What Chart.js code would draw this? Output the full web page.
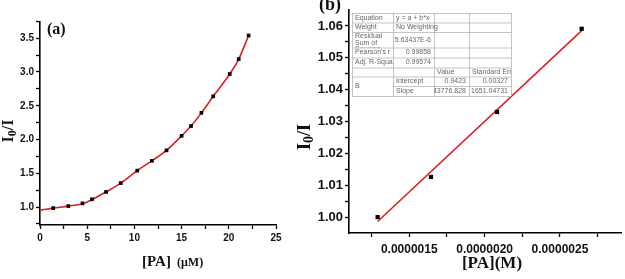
<!DOCTYPE html>
<html>
<head>
<meta charset="utf-8">
<script src="https://cdn.jsdelivr.net/npm/chart.js@4/dist/chart.umd.min.js"></script>
<style>
  body { margin: 0; background: #fff; width: 625px; height: 279px; position: relative; overflow: hidden; }
  #chartA { position: absolute; left: 0; top: 0; }
  #chartB { position: absolute; left: 290px; top: 0; }
</style>
</head>
<body>
<canvas id="chartA" width="300" height="279"></canvas>
<canvas id="chartB" width="335" height="279"></canvas>
<script>
// panel (a): quenching data, [PA] in uM vs I0/I
const concA  = [1.4, 3.0, 4.5, 5.5, 7.0, 8.55, 10.3, 11.85, 13.4, 15.0, 16.0, 17.1, 18.35, 20.1, 21.05, 22.1];
const ratioA = [0.985, 1.015, 1.055, 1.115, 1.225, 1.355, 1.54, 1.685, 1.84, 2.055, 2.2, 2.395, 2.64, 2.97, 3.19, 3.54];
// red fitted curve of panel (a)
const curveConcA  = [0, 1.4, 3.0, 4.5, 5.5, 7.0, 8.55, 10.3, 11.85, 13.4, 15.0, 16.0, 17.1, 18.35, 20.1, 21.05, 22.1];
const curveRatioA = [0.955, 0.985, 1.015, 1.05, 1.11, 1.225, 1.355, 1.54, 1.685, 1.84, 2.055, 2.2, 2.395, 2.64, 2.97, 3.19, 3.54];
const xTicksA  = [0, 2.5, 5, 7.5, 10, 12.5, 15, 17.5, 20, 22.5, 25];
const xLabelsA = ['0', '', '5', '', '10', '', '15', '', '20', '', '25'];
const yTicksA  = [0.75, 1.0, 1.25, 1.5, 1.75, 2.0, 2.25, 2.5, 2.75, 3.0, 3.25, 3.5, 3.75];
const yLabelsA = ['', '1.0', '', '1.5', '', '2.0', '', '2.5', '', '3.0', '', '3.5', ''];

// panel (b): linear part, [PA] in M
const concB  = [1.29e-6, 1.644e-6, 2.082e-6, 2.644e-6];
const ratioB = [1.000, 1.0126, 1.033, 1.0591];
const fitConcB  = [1.29e-6, 2.644e-6];
const fitRatioB = [0.9986, 1.0585];
const xTicksB  = [1.25e-6, 1.5e-6, 1.75e-6, 2.0e-6, 2.25e-6, 2.5e-6, 2.75e-6];
const xLabelsB = ['', '0.0000015', '', '0.0000020', '', '0.0000025', ''];
const yTicksB  = [1.0, 1.005, 1.01, 1.015, 1.02, 1.025, 1.03, 1.035, 1.04, 1.045, 1.05, 1.055, 1.06];
const yLabelsB = ['1.00', '', '1.01', '', '1.02', '', '1.03', '', '1.04', '', '1.05', '', '1.06'];

// fit report table of panel (b)
const tableRows = [
  ['Equation', 'y = a + b*x', '', ''],
  ['Weight', 'No Weighting', '', ''],
  ['Residual\nSum of\nSquares', '5.63437E-6', '', ''],
  ["Pearson's r", '0.99858', '', ''],
  ['Adj. R-Squar', '0.99574', '', ''],
  ['', '', 'Value', 'Standard Erro'],
  ['B', 'Intercept', '0.9423', '0.00327'],
  ['', 'Slope', '43776.828', '1651.04731']
];

const RED = 'rgb(218, 32, 36)';
const tickFont = 'Liberation Sans';
const titleFont = 'Liberation Serif';

function pts(xs, ys) {
  return xs.map((x, i) => ({ x: x, y: ys[i] }));
}

function axis(min, max, tickValues, tickLabels, size, pad, fit, isX) {
  return {
    type: 'linear',
    min: min,
    max: max,
    afterBuildTicks: (s) => { s.ticks = tickValues.map(v => ({ value: v })); },
    afterFit: (s) => { if (isX) s.height = fit; else s.width = fit; },
    border: { display: true, color: '#000', width: 1.6 },
    grid: { drawOnChartArea: false, drawTicks: true, tickLength: 4, color: '#000', tickWidth: 1.3 },
    ticks: {
      autoSkip: false,
      maxRotation: 0,
      padding: pad,
      color: '#111',
      font: { family: tickFont, size: size, weight: 'bold' },
      callback: (v, i) => tickLabels[i]
    }
  };
}

// draws "I0/I" rotated, with a subscript 0
function drawRatioTitle(ctx, cx, cy, size) {
  ctx.save();
  ctx.translate(cx, cy);
  ctx.rotate(-Math.PI / 2);
  ctx.fillStyle = '#111';
  ctx.textBaseline = 'middle';
  const big = 'bold ' + size + 'px ' + titleFont;
  const small = 'bold ' + Math.round(size * 0.75) + 'px ' + titleFont;
  ctx.font = big; const w1 = ctx.measureText('I').width;
  ctx.font = small; const w2 = ctx.measureText('0').width;
  ctx.font = big; const w3 = ctx.measureText('/I').width;
  let x = -(w1 + w2 + w3) / 2;
  ctx.font = big; ctx.fillText('I', x, 0); x += w1;
  ctx.font = small; ctx.fillText('0', x, size * 0.25); x += w2;
  ctx.font = big; ctx.fillText('/I', x, 0);
  ctx.restore();
}

const labelsA = {
  id: 'labelsA',
  afterDraw(chart) {
    const ctx = chart.ctx;
    ctx.save();
    ctx.fillStyle = '#111';
    ctx.textBaseline = 'alphabetic';
    ctx.font = 'bold 16px ' + titleFont;
    ctx.fillText('(a)', 47, 34);
    ctx.font = 'bold 15px ' + titleFont;
    ctx.fillText('[PA]', 142, 266);
    ctx.font = 'bold 12px ' + titleFont;
    ctx.fillText('(\u03bcM)', 177, 266);
    ctx.restore();
    drawRatioTitle(ctx, 9, 131, 16);
  }
};

const labelsB = {
  id: 'labelsB',
  afterDraw(chart) {
    const ctx = chart.ctx;
    ctx.save();
    ctx.fillStyle = '#111';
    ctx.textBaseline = 'alphabetic';
    ctx.font = 'bold 18px ' + titleFont;
    ctx.fillText('(b)', 29, 10);
    ctx.textAlign = 'center';
    ctx.font = 'bold 17px ' + titleFont;
    ctx.fillText('[PA](M)', 202, 268);
    ctx.restore();
    drawRatioTitle(ctx, 15, 137, 18);

    // fit report table
    const cols = [62, 103, 144, 179, 221];
    const rows = [13, 22.5, 32, 47.5, 57.5, 67.5, 76.5, 86, 96];
    ctx.save();
    ctx.fillStyle = '#fff';
    ctx.fillRect(cols[0], rows[0], cols[4] - cols[0], rows[8] - rows[0]);
    ctx.strokeStyle = '#b5b5b5';
    ctx.lineWidth = 0.8;
    ctx.beginPath();
    cols.forEach(c => { ctx.moveTo(c + 0.5, rows[0]); ctx.lineTo(c + 0.5, rows[8]); });
    rows.forEach((r, i) => {
      ctx.moveTo(i === 7 ? cols[1] : cols[0], r + 0.5);
      ctx.lineTo(cols[4], r + 0.5);
    });
    ctx.stroke();
    ctx.fillStyle = '#666';
    ctx.font = '7px ' + tickFont;
    ctx.textBaseline = 'middle';
    tableRows.forEach((row, ri) => {
      const top = rows[ri];
      const bot = (ci0 => rows[ri + 1]);
      row.forEach((cell, ci) => {
        if (!cell) return;
        let cTop = top, cBot = rows[ri + 1];
        let right = cols[ci + 1];
        if (ci === 0 && ri === 6) cBot = rows[8];          // "B" spans two rows
        if (ci === 1 && ri < 5) right = cols[3];            // values overflow into next column
        const mid = (cTop + cBot) / 2;
        ctx.save();
        ctx.beginPath();
        ctx.rect(cols[ci], cTop, right - cols[ci], cBot - cTop);
        ctx.clip();
        const lines = cell.split('\n');
        const numeric = /^[0-9.\-E]+$/.test(cell);
        if (numeric) {
          ctx.textAlign = 'right';
          ctx.fillText(cell, (ci === 1 ? cols[2] : cols[ci + 1]) - 3, mid);
        } else if (lines.length > 1) {
          ctx.textAlign = 'left';
          lines.forEach((ln, k) => ctx.fillText(ln, cols[ci] + 3, cTop + 4.5 + k * 6.5));
        } else {
          ctx.textAlign = 'left';
          ctx.fillText(cell, cols[ci] + 3, mid);
        }
        ctx.restore();
      });
    });
    ctx.restore();
  }
};

new Chart(document.getElementById('chartA'), {
  type: 'scatter',
  data: {
    datasets: [
      {
        label: 'data',
        data: pts(concA, ratioA),
        pointStyle: 'rect',
        pointRadius: 2.6,
        backgroundColor: '#000',
        borderColor: '#000',
        borderWidth: 0
      },
      {
        label: 'fit',
        data: pts(curveConcA, curveRatioA),
        showLine: true,
        pointRadius: 0,
        borderColor: RED,
        borderWidth: 1.6,
        cubicInterpolationMode: 'monotone'
      }
    ]
  },
  options: {
    responsive: false,
    animation: false,
    layout: { padding: { top: 22, right: 24, left: 0, bottom: 0 } },
    plugins: { legend: { display: false }, tooltip: { enabled: false } },
    scales: {
      x: axis(0, 25, xTicksA, xLabelsA, 10, 3, 54, true),
      y: axis(0.735, 3.74, yTicksA, yLabelsA, 10, 2, 40, false)
    }
  },
  plugins: [labelsA]
});

new Chart(document.getElementById('chartB'), {
  type: 'scatter',
  data: {
    datasets: [
      {
        label: 'data',
        data: pts(concB, ratioB),
        pointStyle: 'rect',
        pointRadius: 3,
        backgroundColor: '#000',
        borderColor: '#000',
        borderWidth: 0
      },
      {
        label: 'fit',
        data: pts(fitConcB, fitRatioB),
        showLine: true,
        pointRadius: 0,
        borderColor: RED,
        borderWidth: 1.6
      }
    ]
  },
  options: {
    responsive: false,
    animation: false,
    layout: { padding: { top: 10, right: 0, left: 0, bottom: 0 } },
    plugins: { legend: { display: false }, tooltip: { enabled: false } },
    scales: {
      x: axis(1.1e-6, 2.905e-6, xTicksB, xLabelsB, 12, 5, 46, true),
      y: axis(0.995, 1.065, yTicksB, yLabelsB, 13, 2, 59, false)
    }
  },
  plugins: [labelsB]
});
</script>
</body>
</html>
